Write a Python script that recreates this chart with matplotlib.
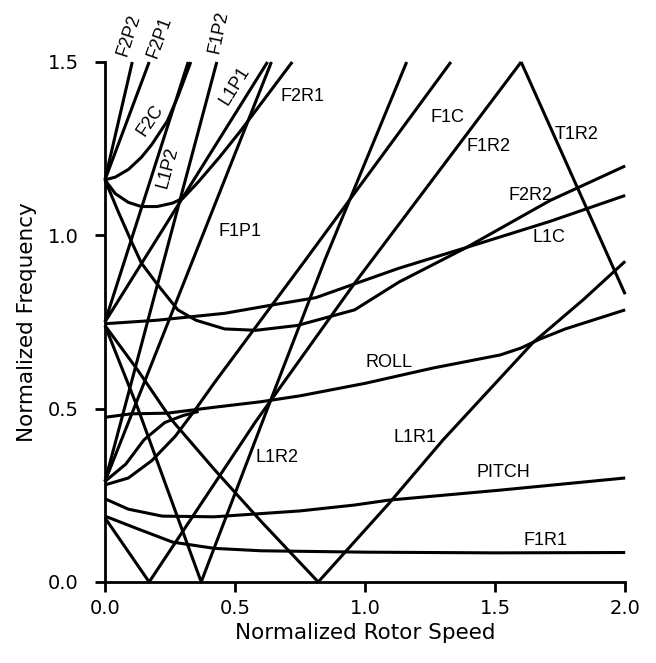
"""Whirl-flutter style Campbell diagram: rotor/pylon modes vs rotor speed."""
import matplotlib
matplotlib.use("Agg")
import matplotlib.pyplot as plt

plt.rcParams["font.family"] = ["Liberation Sans", "DejaVu Sans"]

# ── curves (normalized rotor speed, normalized freq) ──
# second flap group
f2p2_x = [0.0, 0.105]
f2p2_y = [1.16, 1.50]
f2p1_x = [0.0, 0.17]
f2p1_y = [1.16, 1.50]
f2c_x = [0.0, 0.04, 0.09, 0.14, 0.18, 0.24, 0.28, 0.33]
f2c_y = [1.16, 1.168, 1.19, 1.225, 1.262, 1.33, 1.40, 1.50]
f2r1_x = [0.0, 0.04, 0.09, 0.14, 0.20, 0.26, 0.30, 0.36, 0.44, 0.52, 0.60, 0.72]
f2r1_y = [1.16, 1.12, 1.095, 1.083, 1.083, 1.093, 1.107, 1.155, 1.225, 1.30, 1.38, 1.50]
f2r2_x = [0.0, 0.05, 0.10, 0.14, 0.20, 0.28, 0.35, 0.46, 0.58, 0.74, 0.96, 1.13, 1.39, 1.71, 2.0]
f2r2_y = [1.16, 1.07, 0.985, 0.92, 0.86, 0.785, 0.755, 0.73, 0.726, 0.74, 0.785, 0.865, 0.965, 1.10, 1.20]

# first lag group
l1c_x = [0.0, 0.20, 0.46, 0.65, 0.81, 0.96, 1.13, 1.39, 1.71, 2.0]
l1c_y = [0.745, 0.755, 0.775, 0.80, 0.82, 0.86, 0.905, 0.965, 1.04, 1.115]
l1p1_x = [0.0, 0.625]
l1p1_y = [0.75, 1.50]
l1p2_x = [0.0, 0.32]
l1p2_y = [0.75, 1.50]
l1r1_x = [0.0, 0.127, 0.257, 0.42, 0.60, 0.82, 1.09, 1.30, 1.645, 1.84, 2.0]
l1r1_y = [0.74, 0.61, 0.467, 0.325, 0.175, 0.0, 0.225, 0.41, 0.69, 0.815, 0.925]
l1r2_x = [0.0, 0.127, 0.37, 0.64, 0.846, 1.16]
l1r2_y = [0.74, 0.50, 0.0, 0.53, 0.93, 1.50]

# first flap group
f1c_x = [0.0, 0.09, 0.18, 0.27, 0.35, 0.42, 0.77, 1.33]
f1c_y = [0.28, 0.30, 0.35, 0.42, 0.50, 0.574, 0.928, 1.50]
f1p1_x = [0.0, 0.64]
f1p1_y = [0.29, 1.50]
f1p2_x = [0.0, 0.43]
f1p2_y = [0.29, 1.50]
f1r1_x = [0.0, 0.12, 0.26, 0.42, 0.60, 1.0, 1.5, 2.0]
f1r1_y = [0.19, 0.155, 0.115, 0.097, 0.09, 0.086, 0.084, 0.085]
f1r2_x = [0.0, 0.17, 0.577, 0.96, 1.60]
f1r2_y = [0.185, 0.0, 0.46, 0.862, 1.50]
f1x_x = [0.0, 0.08, 0.15, 0.23, 0.30, 0.36]
f1x_y = [0.29, 0.34, 0.41, 0.46, 0.48, 0.492]

# torsion and pylon modes
t1r2_x = [1.60, 2.0]
t1r2_y = [1.50, 0.83]
roll_x = [0.0, 0.10, 0.24, 0.42, 0.60, 0.75, 1.0, 1.26, 1.52, 1.60, 1.67, 1.77, 2.0]
roll_y = [0.475, 0.485, 0.487, 0.504, 0.52, 0.537, 0.573, 0.617, 0.655, 0.675, 0.70, 0.73, 0.785]
pitch_x = [0.0, 0.09, 0.22, 0.42, 0.75, 0.96, 1.09, 1.52, 2.0]
pitch_y = [0.24, 0.21, 0.19, 0.188, 0.205, 0.222, 0.236, 0.265, 0.30]

curves = [
    (f2p2_x, f2p2_y), (f2p1_x, f2p1_y), (f2c_x, f2c_y), (f2r1_x, f2r1_y),
    (f2r2_x, f2r2_y), (l1c_x, l1c_y), (l1p1_x, l1p1_y), (l1p2_x, l1p2_y),
    (l1r1_x, l1r1_y), (l1r2_x, l1r2_y), (f1c_x, f1c_y), (f1p1_x, f1p1_y),
    (f1p2_x, f1p2_y), (f1r1_x, f1r1_y), (f1r2_x, f1r2_y), (f1x_x, f1x_y),
    (t1r2_x, t1r2_y), (roll_x, roll_y), (pitch_x, pitch_y),
]

# label text, position (data), rotation
labels = [
    ("F2P2", 0.092, 1.576, 72), ("F2P1", 0.21, 1.57, 70),
    ("F1P2", 0.435, 1.585, 78), ("F2C", 0.173, 1.33, 56),
    ("L1P2", 0.242, 1.196, 75), ("L1P1", 0.50, 1.432, 58),
    ("F2R1", 0.673, 1.40, 0), ("F1P1", 0.435, 1.01, 0),
    ("F1C", 1.25, 1.34, 0), ("F1R2", 1.39, 1.255, 0),
    ("T1R2", 1.73, 1.29, 0), ("F2R2", 1.55, 1.115, 0),
    ("L1C", 1.645, 0.995, 0), ("ROLL", 1.0, 0.634, 0),
    ("L1R1", 1.11, 0.418, 0), ("L1R2", 0.58, 0.36, 0),
    ("PITCH", 1.43, 0.317, 0), ("F1R1", 1.61, 0.12, 0),
]

fig = plt.figure(figsize=(6.56, 6.63), dpi=100)
ax = fig.add_axes([0.160, 0.1222, 0.793, 0.7843])

for xs, ys in curves:
    ax.plot(xs, ys, color="black", lw=2.2, solid_joinstyle="round",
            solid_capstyle="butt", clip_on=False)

for txt, x, y, rot in labels:
    if rot:
        ax.text(x, y, txt, rotation=rot, ha="center", va="center",
                fontsize=13, rotation_mode="anchor", clip_on=False)
    else:
        ax.text(x, y, txt, ha="left", va="center", fontsize=13)

ax.set_xlim(0, 2.0)
ax.set_ylim(0, 1.5)
ax.set_xticks([0.0, 0.5, 1.0, 1.5, 2.0])
ax.set_yticks([0.0, 0.5, 1.0, 1.5])
ax.set_xticklabels(["0.0", "0.5", "1.0", "1.5", "2.0"])
ax.set_yticklabels(["0.0", "0.5", "1.0", "1.5"])
for s in ("top", "right"):
    ax.spines[s].set_visible(False)
for s in ("left", "bottom"):
    ax.spines[s].set_linewidth(2.0)
ax.tick_params(axis="x", direction="out", length=7, width=2.0, pad=5)
ax.tick_params(axis="y", direction="out", length=7, width=2.0, pad=12)
for t in ax.get_xticklabels() + ax.get_yticklabels():
    t.set_family(["DejaVu Sans"])
    t.set_fontsize(14)

ax.set_xlabel("Normalized Rotor Speed", fontsize=15.5, va="top",
              family=["DejaVu Sans"])
ax.set_ylabel("Normalized Frequency", fontsize=15.5, family=["DejaVu Sans"])
ax.xaxis.set_label_coords(0.5, -0.078)
ax.yaxis.set_label_coords(-0.13, 0.5)

fig.savefig("out.png", dpi=100)
